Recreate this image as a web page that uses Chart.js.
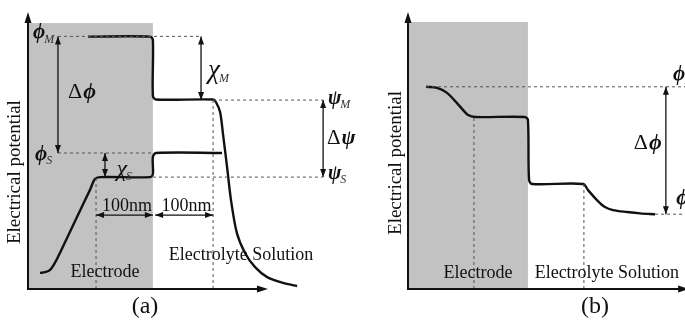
<!DOCTYPE html>
<html><head><meta charset="utf-8">
<script src="https://cdn.jsdelivr.net/npm/chart.js@4/dist/chart.umd.min.js"></script>
<style>
html,body{margin:0;padding:0;background:#fff;}
#wrap{position:relative;width:685px;height:323px;overflow:hidden;background:#fff;}
#ca{position:absolute;left:0;top:0;}
#cb{position:absolute;left:370px;top:0;}
</style></head><body>
<div id="wrap"><canvas id="ca" width="380" height="323"></canvas><canvas id="cb" width="315" height="323"></canvas></div>
<script>
// ---------- Panel (a) data (x: distance, y: electrical potential, arbitrary units) ----------
const aUpperX = [21.4, 43.6, 44.6, 44.6, 45.7, 66.1, 67.1, 68.6, 69.6, 71.1, 72.5, 74.6, 77.5, 81.1, 85.4, 91.1, 96.1];
const aUpperY = [91.1, 91.1, 89.9, 69.7, 68.4, 68.4, 67.5, 63.9, 56.3, 44.0, 32.1, 20.2, 13.0, 7.9, 4.3, 2.2, 1.1];
const aLowerX = [4.3, 6.1, 7.9, 9.6, 11.4, 17.5, 22.1, 23.9, 25.7, 43.6, 44.6, 44.6, 45.7, 69.3];
const aLowerY = [5.8, 6.1, 6.9, 9.4, 13.0, 26.0, 35.7, 39.7, 40.4, 40.4, 41.5, 47.7, 49.1, 49.1];
const aElectrodeEnd = 44.6;
// horizontal guides: [level, from, to]
const aGuideH = [[91.2, 10.7, 61.8], [68.2, 66.1, 105.4], [49.1, 10.7, 44.6], [40.4, 44.6, 105.4]];
// vertical guides: [x, from, to]
const aGuideV = [[24.3, 0, 40.4], [66.1, 0, 68.2]];
// vertical double arrows: [x, from, to]
const aArrowV = [[10.7, 91.2, 49.1], [61.8, 91.2, 68.2], [27.5, 49.1, 40.4], [105.4, 68.2, 40.4]];
// horizontal double arrows: [y, from, to]
const aArrowH = [[26.7, 24.3, 44.6], [26.7, 45.4, 66.1]];
const aSymMain = ['ϕ', 'ϕ', 'Δϕ', 'χ', 'χ', 'ψ', 'Δψ', 'ψ'];
const aSymSub  = ['M', 'S', '', 'M', 'S', 'M', '', 'S'];
const aTexts = ['100nm', '100nm', 'Electrode', 'Electrolyte Solution', '(a)'];

// ---------- Panel (b) data ----------
const bCurveX = [6.5, 10.5, 14.1, 17.7, 19.9, 21.7, 24.2, 42.2, 43.3, 43.7, 44.8, 63.2, 65.0, 68.2, 71.1, 74.0, 79.1, 83.8, 89.2];
const bCurveY = [73.0, 72.6, 70.8, 67.1, 64.6, 62.8, 62.1, 62.1, 61.0, 39.4, 37.9, 37.9, 35.7, 32.1, 29.6, 28.5, 27.8, 27.3, 27.0];
const bElectrodeEnd = 43.3;
const bGuideH = [[73.0, 6.5, 101], [27.0, 89.2, 101]];
const bGuideV = [[23.8, 0, 62.1], [63.5, 0, 37.9]];
const bArrowV = [[93.1, 73.0, 27.0]];
const bSymMain = ['ϕ', 'Δϕ', 'ϕ'];
const bSymSub  = ['M', '', 'S'];
const bTexts = ['Electrode', 'Electrolyte Solution', '(b)'];
const yTitle = 'Electrical potential';

// ---------- helpers ----------
const SERIF = '"Liberation Serif", "DejaVu Serif", serif';
function lineDS(xs, ys, opts) {
  return Object.assign({
    data: xs.map((x, i) => ({x: x, y: ys[i]})),
    showLine: true, pointRadius: 0, borderColor: '#111', borderWidth: 2.4,
    tension: 0.3, clip: false, fill: false
  }, opts || {});
}
function guideHDS(list) {
  return list.map(g => lineDS([g[1], g[2]], [g[0], g[0]], {borderWidth: 1, borderDash: [3, 3], borderColor: '#555', tension: 0}));
}
function guideVDS(list) {
  return list.map(g => lineDS([g[0], g[0]], [g[1], g[2]], {borderWidth: 1, borderDash: [3, 3], borderColor: '#555', tension: 0}));
}
function P(chart, x, y) { return [chart.scales.x.getPixelForValue(x), chart.scales.y.getPixelForValue(y)]; }
function head(ctx, x, y, ang, L, W) {
  ctx.save(); ctx.translate(x, y); ctx.rotate(ang);
  ctx.beginPath(); ctx.moveTo(0, 0); ctx.lineTo(-L, -W); ctx.lineTo(-L, W); ctx.closePath(); ctx.fill();
  ctx.restore();
}
function dbl(ctx, a, b) {
  const ang = Math.atan2(b[1] - a[1], b[0] - a[0]);
  ctx.beginPath(); ctx.moveTo(a[0], a[1]); ctx.lineTo(b[0], b[1]); ctx.stroke();
  head(ctx, b[0], b[1], ang, 8, 3); head(ctx, a[0], a[1], ang + Math.PI, 8, 3);
}
function sym(ctx, x, y, main, sub, size, bold) {
  ctx.textAlign = 'left'; ctx.textBaseline = 'middle'; ctx.fillStyle = '#111';
  let cx = x; let s = main;
  if (s[0] === 'Δ') {
    ctx.font = size + 'px ' + SERIF; ctx.fillText('Δ', cx, y); cx += ctx.measureText('Δ').width + 1; s = s.slice(1);
  }
  ctx.font = 'italic ' + (bold ? 'bold ' : '') + size + 'px ' + SERIF;
  ctx.fillText(s, cx, y); cx += ctx.measureText(s).width;
  if (sub) { ctx.font = 'italic 12px ' + SERIF; ctx.fillStyle = '#333'; ctx.fillText(sub, cx - 1, y + size * 0.3); }
}
function txt(ctx, s, x, y, size) {
  ctx.font = size + 'px ' + SERIF; ctx.fillStyle = '#111'; ctx.textAlign = 'center'; ctx.textBaseline = 'middle';
  ctx.fillText(s, x, y);
}
function axes(chart, xEnd) {
  const ctx = chart.ctx; const o = P(chart, 0, 0); const t = P(chart, 0, 100); const r = P(chart, xEnd, 0);
  ctx.save(); ctx.strokeStyle = '#111'; ctx.fillStyle = '#111'; ctx.lineWidth = 2;
  ctx.beginPath(); ctx.moveTo(o[0], o[1]); ctx.lineTo(t[0], t[1] + 6); ctx.stroke();
  head(ctx, t[0], t[1], -Math.PI / 2, 11, 3.5);
  ctx.beginPath(); ctx.moveTo(o[0] - 1, o[1]); ctx.lineTo(r[0] - 6, r[1]); ctx.stroke();
  head(ctx, r[0], r[1], 0, 11, 3.5);
  ctx.restore();
}
function yLabel(chart, x, y) {
  const ctx = chart.ctx; const p = P(chart, x, y);
  ctx.save(); ctx.translate(p[0], p[1]); ctx.rotate(-Math.PI / 2);
  txt(ctx, yTitle, 0, 0, 19); ctx.restore();
}
function grayBox(chart, xEnd, top) {
  const ctx = chart.ctx; const a = P(chart, 0, top); const b = P(chart, xEnd, 0);
  ctx.save(); ctx.fillStyle = '#c2c2c2'; ctx.fillRect(a[0], a[1], b[0] - a[0], b[1] - a[1]); ctx.restore();
}
const baseOptions = (pad) => ({
  responsive: false, animation: false, events: [],
  layout: {padding: pad},
  plugins: {legend: {display: false}, tooltip: {enabled: false}},
  scales: {x: {type: 'linear', min: 0, max: 100, display: false}, y: {type: 'linear', min: 0, max: 100, display: false}}
});

// ---------- Panel (a) ----------
const pluginA = {
  id: 'pa',
  beforeDatasetsDraw(chart) { grayBox(chart, aElectrodeEnd, 96.0); },
  afterDatasetsDraw(chart) {
    const ctx = chart.ctx;
    axes(chart, 85.7);
    ctx.save(); ctx.strokeStyle = '#111'; ctx.fillStyle = '#111'; ctx.lineWidth = 1.3;
    aArrowV.forEach(a => dbl(ctx, P(chart, a[0], a[1]), P(chart, a[0], a[2])));
    aArrowH.forEach(a => dbl(ctx, P(chart, a[1], a[0]), P(chart, a[2], a[0])));
    ctx.restore();
    const symPos = [[1.8, 92.4, 21, 1], [2.5, 48.4, 21, 1], [14.3, 71.1, 22, 1], [64.3, 78.8, 27, 0], [31.6, 43.0, 24, 0], [107.1, 68.6, 20, 1], [106.8, 54.2, 21, 1], [107.1, 41.5, 20, 1]];
    aSymMain.forEach((m, i) => { const p = P(chart, symPos[i][0], symPos[i][1]); sym(ctx, p[0], p[1], m, aSymSub[i], symPos[i][2], symPos[i][3]); });
    const tPos = [[35.4, 30.0, 18], [56.6, 30.0, 18], [27.5, 6.1, 18], [76.1, 12.3, 18], [41.8, -6.5, 24]];
    aTexts.forEach((s, i) => { const p = P(chart, tPos[i][0], tPos[i][1]); txt(ctx, s, p[0], p[1], tPos[i][2]); });
    yLabel(chart, -4.6, 42.2);
  }
};
new Chart(document.getElementById('ca'), {
  type: 'scatter',
  data: {datasets: [
    ...guideHDS(aGuideH), ...guideVDS(aGuideV),
    lineDS(aUpperX, aUpperY), lineDS(aLowerX, aLowerY)
  ]},
  options: baseOptions({left: 28, right: 72, top: 12, bottom: 34}),
  plugins: [pluginA]
});

// ---------- Panel (b) ----------
const pluginB = {
  id: 'pb',
  beforeDatasetsDraw(chart) { grayBox(chart, bElectrodeEnd, 96.4); },
  afterDatasetsDraw(chart) {
    const ctx = chart.ctx;
    axes(chart, 101.5);
    ctx.save(); ctx.strokeStyle = '#111'; ctx.fillStyle = '#111'; ctx.lineWidth = 1.3;
    bArrowV.forEach(a => dbl(ctx, P(chart, a[0], a[1]), P(chart, a[0], a[2])));
    ctx.restore();
    const symPos = [[95.7, 77.3, 21, 1], [81.5, 52.7, 22, 1], [96.8, 32.5, 21, 1]];
    bSymMain.forEach((m, i) => { const p = P(chart, symPos[i][0], symPos[i][1]); sym(ctx, p[0], p[1], m, bSymSub[i], symPos[i][2], symPos[i][3]); });
    const tPos = [[25.3, 5.8, 18], [71.8, 5.8, 18], [67.5, -6.5, 24]];
    bTexts.forEach((s, i) => { const p = P(chart, tPos[i][0], tPos[i][1]); txt(ctx, s, p[0], p[1], tPos[i][2]); });
    yLabel(chart, -4.3, 45.5);
  }
};
new Chart(document.getElementById('cb'), {
  type: 'scatter',
  data: {datasets: [
    ...guideHDS(bGuideH), ...guideVDS(bGuideV),
    lineDS(bCurveX, bCurveY)
  ]},
  options: baseOptions({left: 38, right: 0, top: 12, bottom: 34}),
  plugins: [pluginB]
});
</script>
</body></html>
